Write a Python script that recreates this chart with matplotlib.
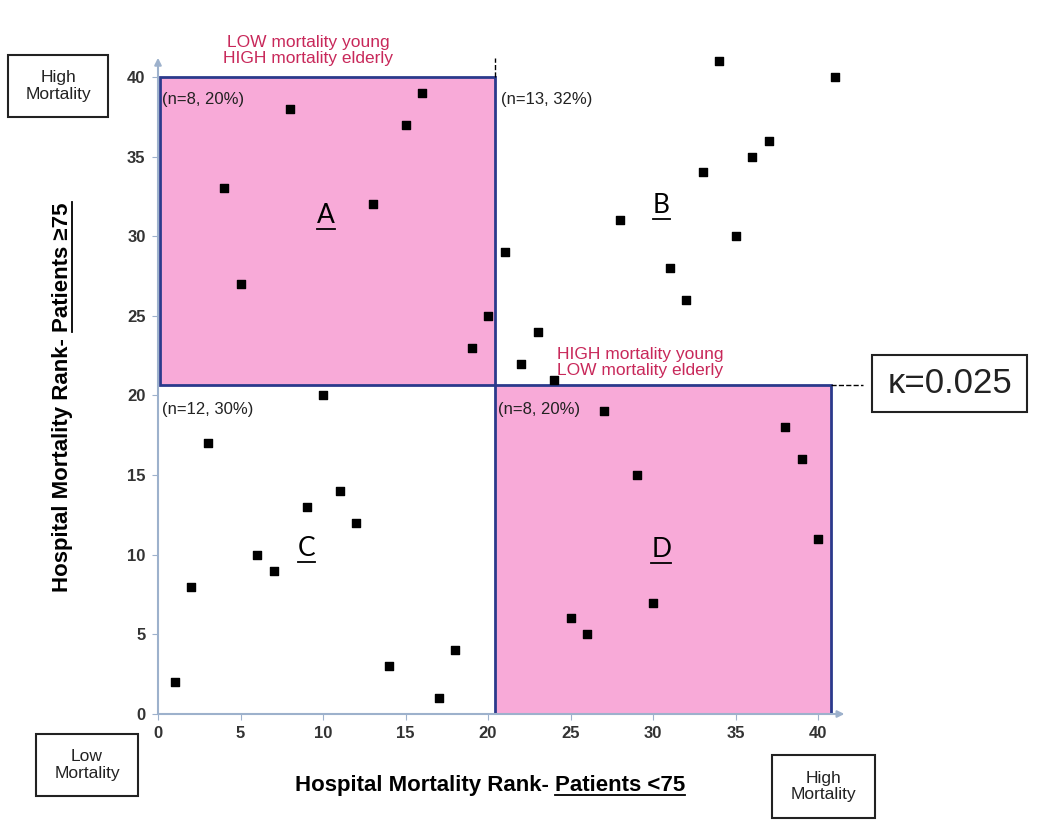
"""
Hospital mortality rank: patients <75 vs patients >=75, quadrant chart.
"""
import matplotlib
matplotlib.use("Agg")
import matplotlib.pyplot as plt
from matplotlib.patches import Rectangle
from matplotlib.lines import Line2D

plt.rcParams["font.family"] = ["Liberation Sans", "DejaVu Sans"]

# hospital ranks (x = patients <75, y = patients >=75)
rank_young = [4, 5, 8, 13, 15, 16, 19, 20,
              21, 22, 23, 24, 28, 31, 32, 33, 34, 35, 36, 37, 41,
              1, 2, 3, 6, 7, 9, 10, 11, 12, 14, 17, 18,
              25, 26, 27, 29, 30, 38, 39, 40]
rank_old = [33, 27, 38, 32, 37, 39, 23, 25,
            29, 22, 24, 21, 31, 28, 26, 34, 41, 30, 35, 36, 40,
            2, 8, 17, 10, 9, 13, 20, 14, 12, 3, 1, 4,
            6, 5, 19, 15, 7, 18, 16, 11]
ticks = [0, 5, 10, 15, 20, 25, 30, 35, 40]
quad_letters = ["A", "B", "C", "D"]
quad_counts = ["(n=8, 20%)", "(n=13, 32%)", "(n=12, 30%)", "(n=8, 20%)"]
cut_x, cut_y = 20.4, 20.65
kappa_text = "κ=0.025"

PINK = "#F8AAD8"
NAVY = "#2B3A8C"
AXIS_C = "#9DB1CC"
RED = "#C8285A"

fig = plt.figure(figsize=(10.5, 8.36), dpi=100)
W, H = 1050, 836
ax = fig.add_axes([158 / W, 122 / H, 684.75 / W, 653 / H])
ax.set_xlim(0, 41.5)
ax.set_ylim(0, 41)
for s in ax.spines.values():
    s.set_visible(False)

# axis arrows
ax.annotate("", xy=(41.6, 0), xytext=(0, 0), annotation_clip=False,
            arrowprops=dict(arrowstyle="-|>", color=AXIS_C, lw=1.5, shrinkA=0, shrinkB=0))
ax.annotate("", xy=(0, 41.2), xytext=(0, 0), annotation_clip=False,
            arrowprops=dict(arrowstyle="-|>", color=AXIS_C, lw=1.5, shrinkA=0, shrinkB=0))

ax.set_xticks(ticks)
ax.set_yticks(ticks)
ax.tick_params(length=4, color=AXIS_C, labelsize=12, labelcolor="#333333", pad=5)
for lab in ax.get_xticklabels() + ax.get_yticklabels():
    lab.set_fontweight("bold")

# discordant quadrants
ax.add_patch(Rectangle((0.1, cut_y), cut_x - 0.1, 40 - cut_y, facecolor=PINK,
                       edgecolor=NAVY, lw=2, zorder=1))
ax.add_patch(Rectangle((cut_x, 0), 40.8 - cut_x, cut_y, facecolor=PINK,
                       edgecolor=NAVY, lw=2, zorder=1))
ax.plot([cut_x, cut_x], [40, 41.2], ls="--", color="black", lw=1, clip_on=False)
ax.plot([40.8, 42.7], [cut_y, cut_y], ls="--", color="black", lw=1, clip_on=False)

ax.scatter(rank_young, rank_old, marker="s", s=38, color="black", zorder=5, clip_on=False)

# quadrant labels
letter_pos = [(10.2, 31.3), (30.5, 31.9), (9.0, 10.4), (30.5, 10.3)]
letters = []
for (lx, ly), l in zip(letter_pos, quad_letters):
    letters.append(ax.text(lx, ly, l, fontsize=19, family="Lato", ha="center", va="center", zorder=6))

count_pos = [(0.25, 38.6), (20.8, 38.6), (0.25, 19.1), (20.6, 19.1)]
for (cx, cy), c in zip(count_pos, quad_counts):
    ax.text(cx, cy, c, fontsize=12, ha="left", va="center", color="#222222", zorder=6)

ax.text(9.1, 40.7, "LOW mortality young\nHIGH mortality elderly", color=RED, fontsize=12.5,
        ha="center", va="bottom", linespacing=1.1)
ax.text(24.2, 21.1, "HIGH mortality young\nLOW mortality elderly", color=RED, fontsize=12.5,
        ha="left", va="bottom", linespacing=1.1, zorder=6)


# boxes (pixel coords of the reference: left, top, right, bottom)
def label_box(x0, y0, x1, y1, text, size, lw=1.5):
    fig.add_artist(Rectangle((x0 / W, 1 - y1 / H), (x1 - x0) / W, (y1 - y0) / H,
                             transform=fig.transFigure, facecolor="white",
                             edgecolor="#222222", lw=lw))
    fig.text((x0 + x1) / 2 / W, 1 - (y0 + y1) / 2 / H, text, fontsize=size,
             ha="center", va="center", linespacing=1.1, color="#222222")


label_box(8, 55, 108, 117, "High\nMortality", 12.5)
label_box(36, 734, 138, 796, "Low\nMortality", 12.5)
label_box(772, 755, 875, 818, "High\nMortality", 12.5)
label_box(872, 355, 1027, 412, kappa_text, 25)

# axis titles (second part underlined)
xlab = fig.text(490 / W, 1 - 786 / H, "Hospital Mortality Rank- Patients <75",
                fontsize=16, fontweight="bold", ha="center", va="center")
ylab = fig.text(63 / W, 1 - 397 / H, "Hospital Mortality Rank- Patients ≥75",
                fontsize=16, fontweight="bold", ha="center", va="center", rotation=90)

fig.canvas.draw()
r = fig.canvas.get_renderer()


def prefix_width(t, prefix):
    tmp = fig.text(0, 0, prefix, fontproperties=t.get_fontproperties())
    w = tmp.get_window_extent(r).width
    tmp.remove()
    return w


def underline_h(t, prefix="", off=2):
    bb = t.get_window_extent(r)
    x0 = bb.x0 + (prefix_width(t, prefix) if prefix else 0)
    fig.add_artist(Line2D([x0 / W, bb.x1 / W], [(bb.y0 + off) / H] * 2,
                          transform=fig.transFigure, color="black", lw=1.3))


def underline_v(t, prefix, off=2):
    bb = t.get_window_extent(r)
    y0 = bb.y0 + prefix_width(t, prefix)
    fig.add_artist(Line2D([(bb.x1 - off) / W] * 2, [y0 / H, bb.y1 / H],
                          transform=fig.transFigure, color="black", lw=1.3))


underline_h(xlab, "Hospital Mortality Rank- ")
underline_v(ylab, "Hospital Mortality Rank- ")
for t in letters:
    underline_h(t, off=-1)

fig.savefig("out.png", dpi=100, facecolor="white")
plt.close(fig)
